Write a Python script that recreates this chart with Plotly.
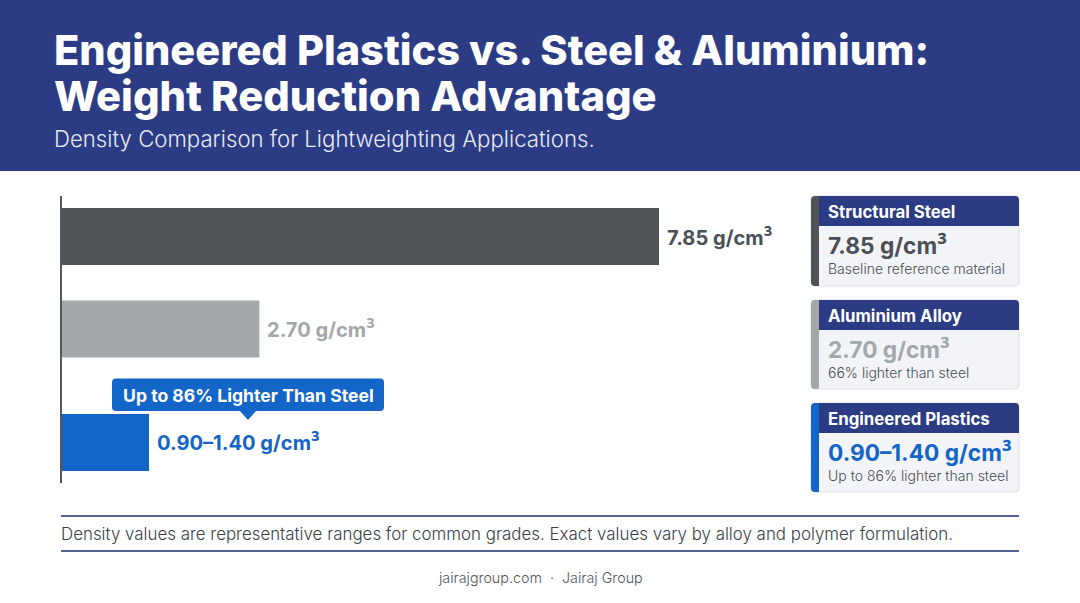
import plotly.graph_objects as go

W, H = 1080, 603

# ---- data ----
materials = ["Structural Steel", "Aluminium Alloy", "Engineered Plastics"]
density_bar = [7.85, 2.60, 1.15]
density_values = ["7.85", "2.70", "0.90–1.40"]
density_unit = "g/cm"
card_notes = ["Baseline reference material", "66% lighter than steel", "Up to 86% lighter than steel"]
callout = "Up to 86% Lighter Than Steel"
title_lines = ["Engineered Plastics vs. Steel & Aluminium:", "Weight Reduction Advantage"]
subtitle = "Density Comparison for Lightweighting Applications."
footnote = "Density values are representative ranges for common grades. Exact values vary by alloy and polymer formulation."
source = "jairajgroup.com  ·  Jairaj Group"

# ---- style ----
FONT = "Inter, 'Noto Sans', sans-serif"
NAVY = "#2b3c84"
RULE = "#1f2f70"
BAR_COLORS = ["#505459", "#a3a8ab", "#1465c8"]
LABEL_COLORS = ["#4c5054", "#a3a8ab", "#1465c8"]
AXIS_L, AXIS_T, AXIS_B = 61.5, 196, 483
PX_PER_UNIT = (659 - 61.5) / 7.85
BAND = (AXIS_B - AXIS_T) / 3
BAR_PX = 57
CENTRE_SHIFT_PX = [-7.3, -10.5, 7.3]
LABEL_YSHIFT = [0, 1, 1]


def density_label(value, size):
    cube = f"<span style=\"font-family:'Noto Sans';font-size:{size * 1.12:.1f}px\">³</span>"
    return f"{value} {density_unit}{cube}"


def px(x):
    return x / W


def py(y):
    return 1 - y / H


def rrect(x0, y0, x1, y1, r=(4, 4, 4, 4)):
    tl, tr, br, bl = r
    X0, X1 = px(x0), px(x1)
    Y0, Y1 = py(y0), py(y1)
    rx = lambda v: v / W
    ry = lambda v: v / H
    return (
        f"M {X0 + rx(tl)} {Y0} L {X1 - rx(tr)} {Y0} Q {X1} {Y0} {X1} {Y0 - ry(tr)} "
        f"L {X1} {Y1 + ry(br)} Q {X1} {Y1} {X1 - rx(br)} {Y1} "
        f"L {X0 + rx(bl)} {Y1} Q {X0} {Y1} {X0} {Y1 + ry(bl)} "
        f"L {X0} {Y0 - ry(tl)} Q {X0} {Y0} {X0 + rx(tl)} {Y0} Z"
    )


shapes = []
ann = []


def add_path(path, fill, line=None, layer="below"):
    shapes.append(dict(type="path", xref="paper", yref="paper", path=path, fillcolor=fill,
                       line=dict(width=1 if line else 0, color=line or fill), layer=layer))


def text(x, y, s, size, color, weight=400, anchor="left"):
    ann.append(dict(xref="paper", yref="paper", x=px(x - 2 if anchor == "left" else x), y=py(y), text=s,
                    showarrow=False, xanchor=anchor, yanchor="middle", align=anchor,
                    font=dict(family=FONT, size=size, color=color, weight=weight)))


# banner
shapes.append(dict(type="rect", xref="paper", yref="paper", x0=0, x1=1, y0=py(171), y1=1,
                   fillcolor=NAVY, line=dict(width=0), layer="below"))
text(54, 49.5, title_lines[0], 41.5, "#ffffff", 800)
text(54, 95.5, title_lines[1], 41.7, "#ffffff", 800)
text(54, 139, subtitle, 22.2, "#e6e9f2", 300)

# bar traces
offsets = [-(BAR_PX / 2) / BAND + s / BAND for s in CENTRE_SHIFT_PX]
fig = go.Figure(go.Bar(
    y=materials, x=density_bar, orientation="h",
    marker=dict(color=BAR_COLORS, line=dict(width=0)),
    width=BAR_PX / BAND, offset=offsets, showlegend=False, hoverinfo="skip",
))

# value labels beside bar ends
for i, (m, v, t) in enumerate(zip(materials, density_bar, density_values)):
    ann.append(dict(xref="x", yref="y", x=v, y=m, text=density_label(t, 20.1), showarrow=False, xanchor="left",
                    xshift=6, yshift=-CENTRE_SHIFT_PX[i] + LABEL_YSHIFT[i], yanchor="middle",
                    font=dict(family=FONT, size=20.1, color=LABEL_COLORS[i], weight=700)))

# callout
add_path(rrect(112, 378.5, 384, 411), "#1465c8", layer="above")
add_path(f"M {px(239)} {py(410)} L {px(257)} {py(410)} L {px(248)} {py(420)} Z", "#1465c8", layer="above")
text(248, 395, callout, 17.6, "#ffffff", 700, "center")

# side cards
CARD_TOPS = [196, 300, 403]
CARD_BOTTOMS = [286, 389, 492]
for i, m in enumerate(materials):
    t, b = CARD_TOPS[i], CARD_BOTTOMS[i]
    add_path(rrect(811, t, 1019, b), "#f2f4f8", "#dfe2e7")
    add_path(rrect(811, t, 819, b, (4, 0, 0, 4)), BAR_COLORS[i])
    add_path(rrect(819, t, 1019, t + 30, (0, 4, 0, 0)), NAVY)
    text(827.5, t + 15.5, m, 16.8, "#ffffff", 700)
    text(827.5, t + 47.5, density_label(density_values[i], 22.7), 22.7, LABEL_COLORS[i], 700)
    text(827.5, t + 72.5, card_notes[i], 14, "#4a4e55", 300)

# footnote rules and text
for yy in (516, 551):
    shapes.append(dict(type="line", xref="paper", yref="paper", x0=px(61), x1=px(1019), y0=py(yy), y1=py(yy),
                       line=dict(color=RULE, width=1.5), layer="below"))
text(61, 533.5, footnote, 16.9, "#3b3f47", 300)
text(540, 577.5, source, 14.3, "#50545c", 300, "center")

fig.update_layout(
    width=W, height=H, margin=dict(l=0, r=0, t=0, b=0), autosize=False,
    paper_bgcolor="#ffffff", plot_bgcolor="rgba(0,0,0,0)",
    shapes=shapes, annotations=ann,
    xaxis=dict(domain=[px(AXIS_L), 1], range=[0, (W - AXIS_L) / PX_PER_UNIT],
               visible=False, fixedrange=True),
    yaxis=dict(domain=[py(AXIS_B), py(AXIS_T)], type="category", categoryorder="array",
               categoryarray=materials, autorange="reversed", showticklabels=False, ticks="",
               showgrid=False, zeroline=False, showline=True, linecolor="#55595e", linewidth=1.5,
               fixedrange=True),
)
fig.write_html("out.html", config=dict(displayModeBar=False),
               post_script="document.body.style.margin='0';document.body.style.overflow='hidden';")
